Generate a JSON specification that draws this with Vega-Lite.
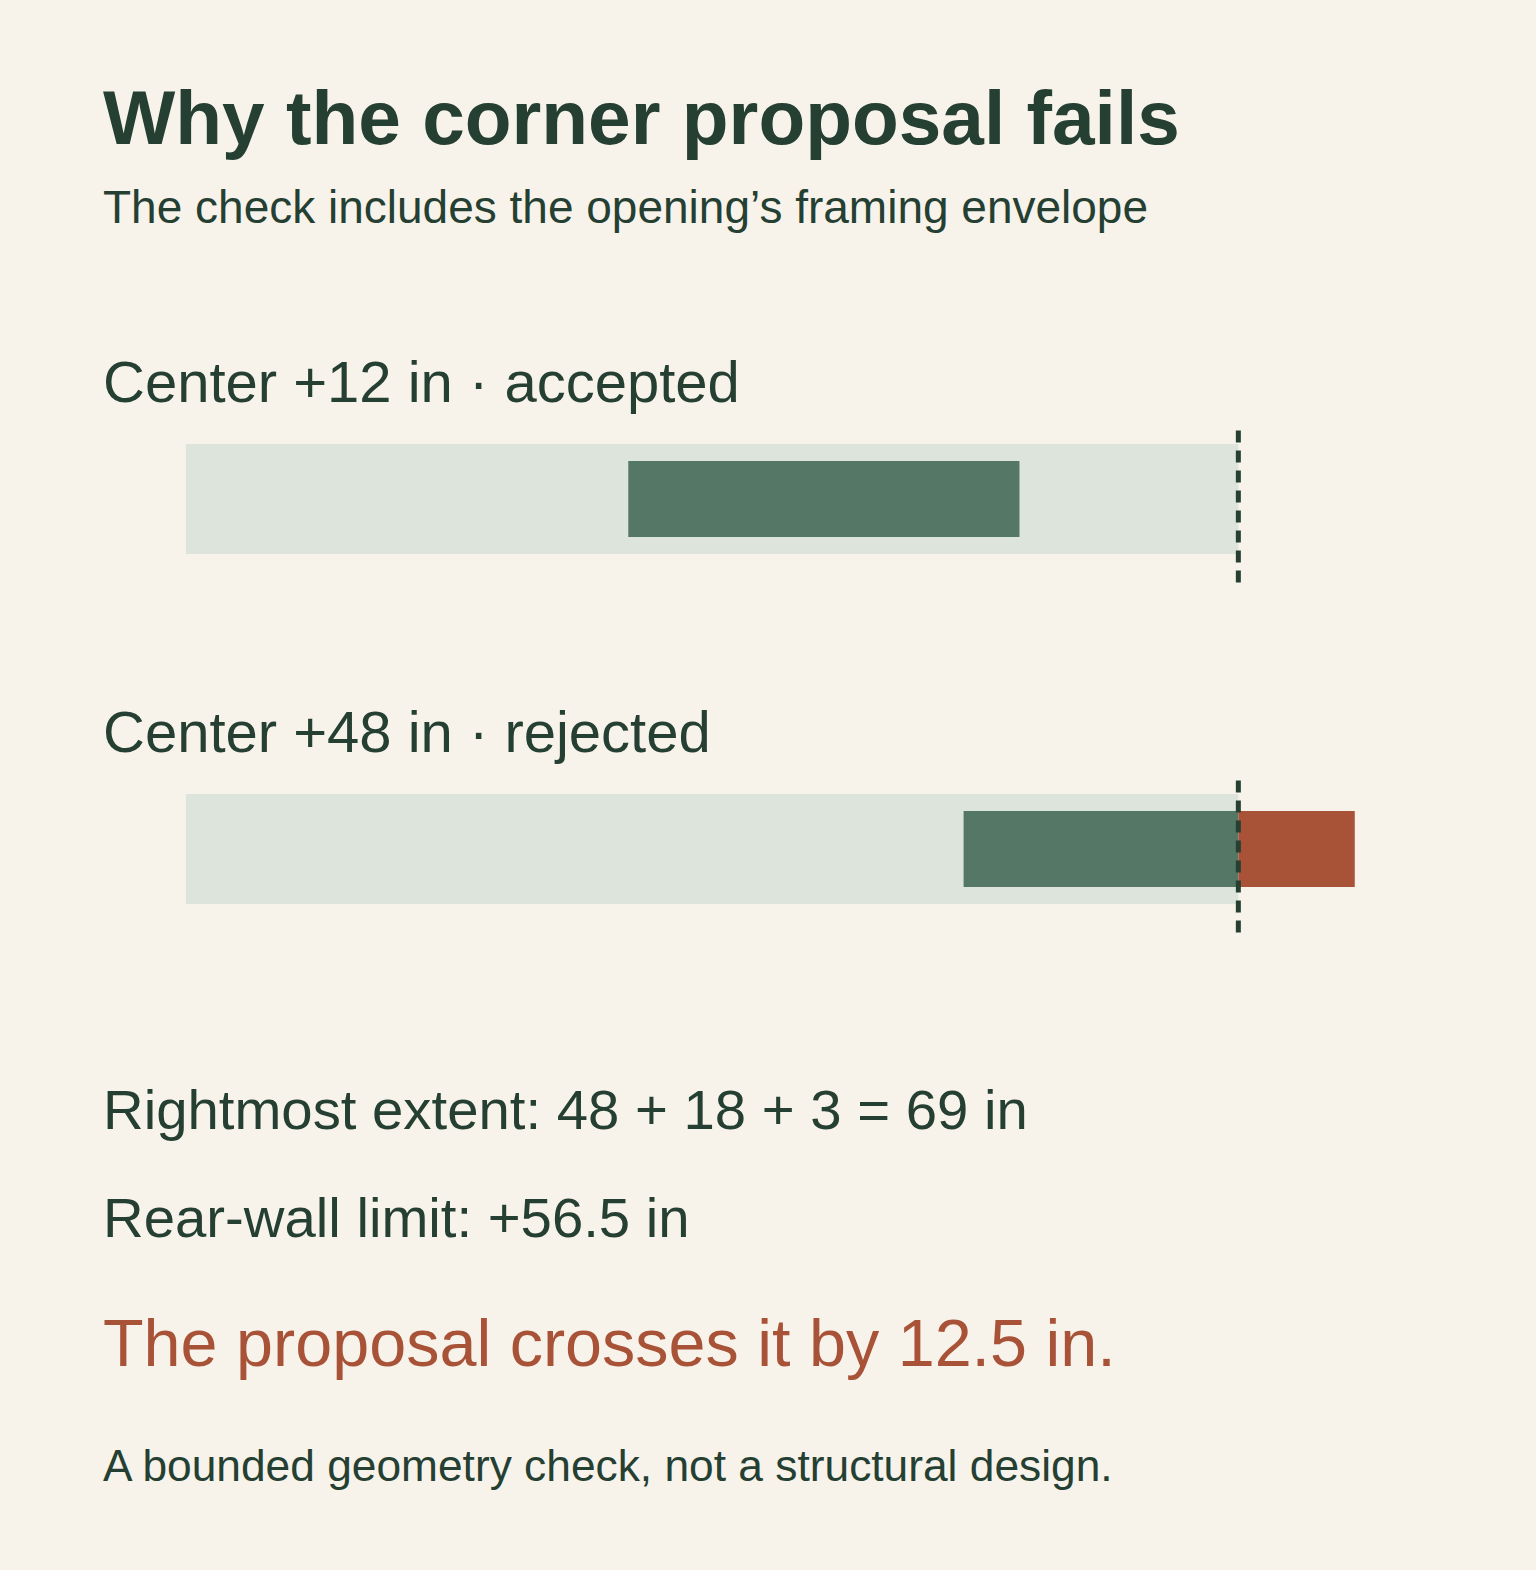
{
  "$schema": "https://vega.github.io/schema/vega-lite/v6.json",
  "background": "#f7f3ea",
  "padding": {"left": 103, "top": 83, "right": 103, "bottom": 79},
  "bounds": "flush",
  "spacing": 105,
  "title": {
    "text": "Why the corner proposal fails",
    "subtitle": "The check includes the opening’s framing envelope",
    "anchor": "start",
    "font": "Liberation Sans",
    "fontSize": 76.6,
    "fontWeight": "bold",
    "color": "#253f32",
    "subtitleFont": "Liberation Sans",
    "subtitleFontSize": 46,
    "subtitleColor": "#253f32",
    "subtitlePadding": 27,
    "offset": 92
  },
  "datasets": {
    "checks": [
      {"check": "Center +12 in · accepted", "center": 12, "limit_left": -56.5, "limit_right": 56.5},
      {"check": "Center +48 in · rejected", "center": 48, "limit_left": -56.5, "limit_right": 56.5}
    ],
    "segments": [
      {"check": "Center +12 in · accepted", "from": -9, "to": 33, "status": "inside"},
      {"check": "Center +48 in · rejected", "from": 27, "to": 56.5, "status": "inside"},
      {"check": "Center +48 in · rejected", "from": 56.5, "to": 69, "status": "over"}
    ],
    "notes": [
      {"line": 1, "text": "Rightmost extent: 48 + 18 + 3 = 69 in"},
      {"line": 2, "text": "Rear-wall limit: +56.5 in"},
      {"line": 3, "text": "The proposal crosses it by 12.5 in."},
      {"line": 4, "text": "A bounded geometry check, not a structural design."}
    ]
  },
  "vconcat": [
    {
      "width": 1330,
      "height": 700,
      "layer": [
        {
          "data": {"name": "checks"},
          "mark": {"type": "bar", "height": 110, "color": "#dce4dc"},
          "encoding": {
            "y": {"field": "check", "type": "nominal", "scale": {"domain": ["Center +12 in · accepted", "Center +48 in · rejected"], "paddingInner": 0, "paddingOuter": 0}, "axis": null},
            "x": {"field": "limit_left", "type": "quantitative", "scale": {"domain": [-65.4, 77.4], "nice": false, "zero": false}, "axis": null},
            "x2": {"field": "limit_right"}
          }
        },
        {
          "data": {"name": "segments"},
          "mark": {"type": "bar", "height": 76},
          "encoding": {
            "y": {"field": "check", "type": "nominal"},
            "x": {"field": "from", "type": "quantitative"},
            "x2": {"field": "to"},
            "color": {"field": "status", "type": "nominal", "scale": {"domain": ["inside", "over"], "range": ["#557766", "#a85238"]}, "legend": null}
          }
        },
        {
          "data": {"name": "checks"},
          "mark": {"type": "rule", "strokeWidth": 5, "strokeDash": [12, 8], "color": "#253f32"},
          "encoding": {
            "x": {"field": "limit_right", "type": "quantitative"},
            "y": {"field": "check", "type": "nominal", "bandPosition": 0.304},
            "y2": {"field": "check", "bandPosition": 0.75}
          }
        },
        {
          "data": {"name": "checks"},
          "mark": {"type": "text", "align": "left", "baseline": "alphabetic", "fontSize": 58, "font": "Liberation Sans", "color": "#253f32"},
          "encoding": {
            "y": {"field": "check", "type": "nominal", "bandPosition": 0.2215},
            "x": {"value": 0},
            "text": {"field": "check"}
          }
        }
      ]
    },
    {
      "width": 1330,
      "height": 352,
      "data": {"name": "notes"},
      "encoding": {
        "y": {"field": "line", "type": "ordinal", "scale": {"type": "point", "padding": 0, "domain": [1, 2, 3, 4]}, "axis": null},
        "x": {"value": 0},
        "text": {"field": "text"}
      },
      "layer": [
        {"transform": [{"filter": "datum.line == 1"}], "mark": {"type": "text", "align": "left", "baseline": "alphabetic", "fontSize": 56.3, "font": "Liberation Sans", "color": "#253f32"}},
        {"transform": [{"filter": "datum.line == 2"}], "mark": {"type": "text", "align": "left", "baseline": "alphabetic", "fontSize": 56.3, "font": "Liberation Sans", "color": "#253f32", "dy": -9}},
        {"transform": [{"filter": "datum.line == 3"}], "mark": {"type": "text", "align": "left", "baseline": "alphabetic", "fontSize": 66.5, "font": "Liberation Sans", "color": "#a85238", "dy": 2}},
        {"transform": [{"filter": "datum.line == 4"}], "mark": {"type": "text", "align": "left", "baseline": "alphabetic", "fontSize": 44.3, "font": "Liberation Sans", "color": "#253f32"}}
      ]
    }
  ],
  "config": {"view": {"stroke": null}, "font": "Liberation Sans"}
}
